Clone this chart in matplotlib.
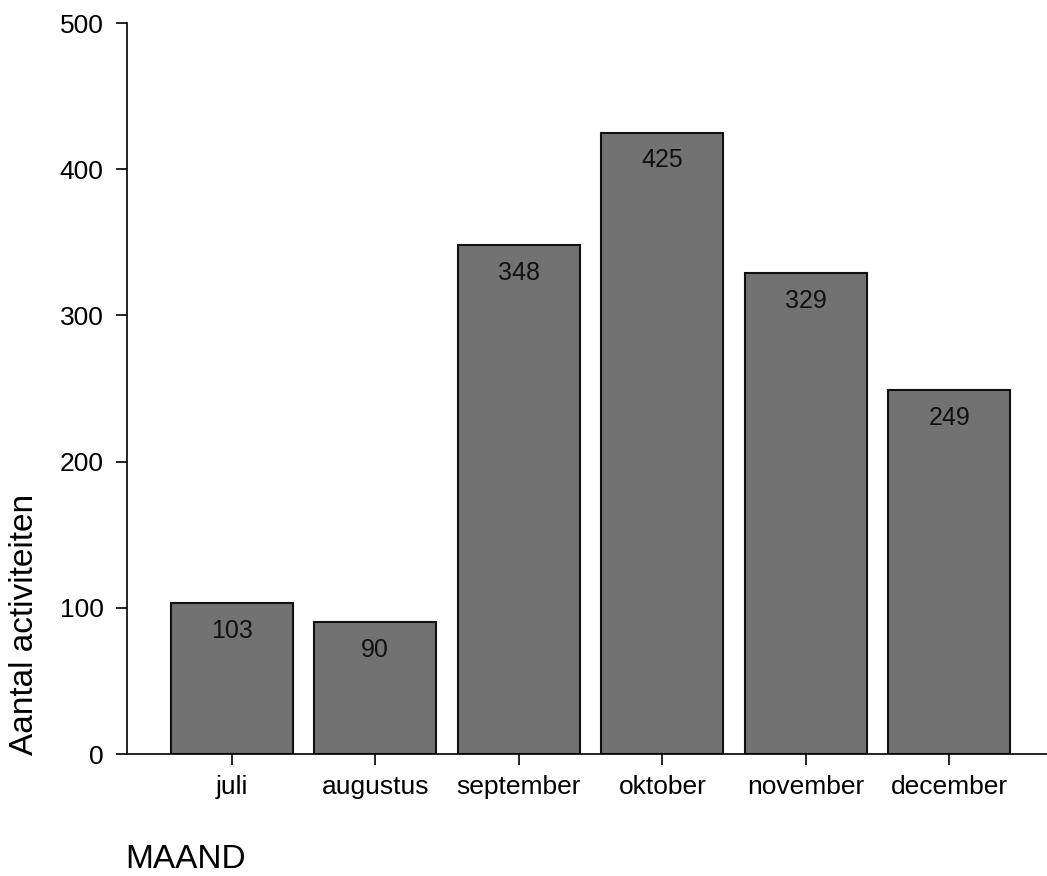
import matplotlib
matplotlib.use('Agg')
import matplotlib.pyplot as plt
import numpy as np

plt.rcParams['font.family'] = ['Liberation Sans', 'DejaVu Sans']

maanden = ['juli', 'augustus', 'september', 'oktober', 'november', 'december']
aantal = [103, 90, 348, 425, 329, 249]

W, H = 1047, 876
fig = plt.figure(figsize=(W / 100, H / 100), dpi=100)
ax = fig.add_axes([127 / W, 1 - 754 / H, 1 - 127 / W, (754 - 23) / H])

x = np.arange(len(maanden))
ax.bar(x, aantal, width=0.85, color='#727272', edgecolor='#111111', linewidth=1.5)

# labels just below the top of each bar
for xi, v in zip(x, aantal):
    ax.text(xi, v - 19, str(v), ha='center', va='center', fontsize=18, color='#111111')

ax.set_xlim(-0.73, 5.68)
ax.set_ylim(0, 500)
ax.set_yticks([0, 100, 200, 300, 400, 500])
ax.set_xticks(x)
ax.set_xticklabels(maanden)

ax.spines['top'].set_visible(False)
ax.spines['right'].set_visible(False)
ax.spines['left'].set_linewidth(1.2)
ax.spines['bottom'].set_linewidth(1.2)
ax.tick_params(axis='y', length=8, width=1.2, pad=9, labelsize=19)
ax.tick_params(axis='x', length=8, width=1.2, pad=7, labelsize=19)

fig.text(25 / W, 1 - 624 / H, 'Aantal activiteiten', rotation=90,
         ha='center', va='center', fontsize=24)
fig.text(125 / W, 1 - 860 / H, 'MAAND', ha='left', va='center', fontsize=24)

fig.savefig('out.png', dpi=100)
